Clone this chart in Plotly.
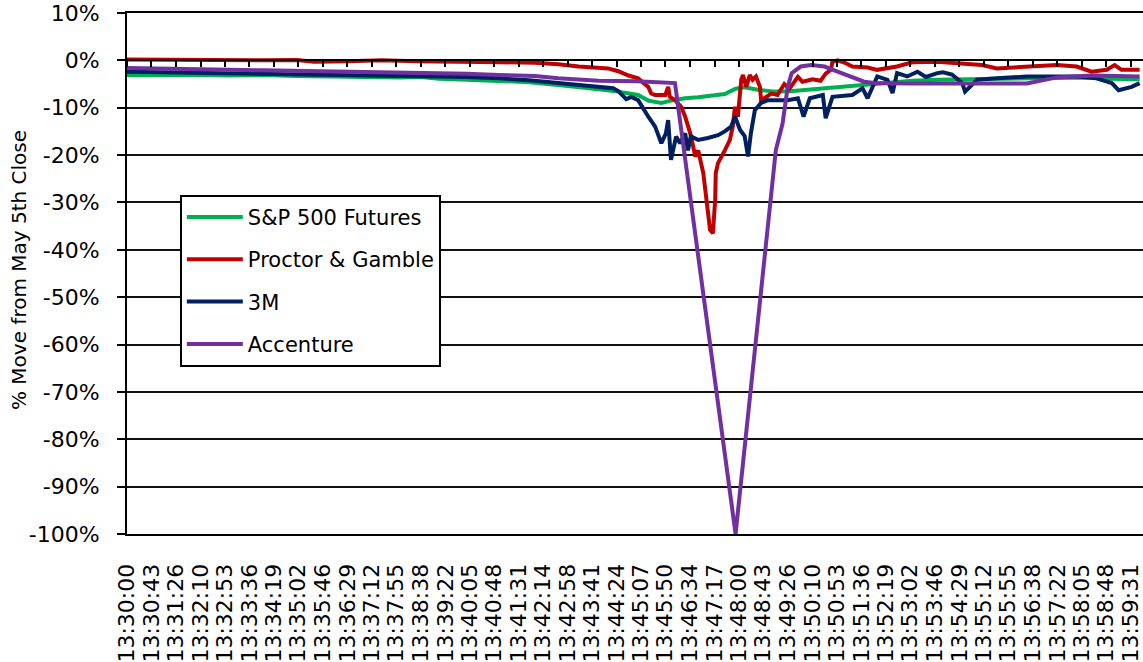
import plotly.graph_objects as go

# ---- data ----
tick_labels = ["13:30:00","13:30:43","13:31:26","13:32:10","13:32:53","13:33:36","13:34:19",
               "13:35:02","13:35:46","13:36:29","13:37:12","13:37:55","13:38:38","13:39:22",
               "13:40:05","13:40:48","13:41:31","13:42:14","13:42:58","13:43:41","13:44:24",
               "13:45:07","13:45:50","13:46:34","13:47:17","13:48:00","13:48:43","13:49:26",
               "13:50:10","13:50:53","13:51:36","13:52:19","13:53:02","13:53:46","13:54:29",
               "13:55:12","13:55:55","13:56:38","13:57:22","13:58:05","13:58:48","13:59:31"]

sp_times = ["13:30:00","13:31:00","13:32:00","13:33:00","13:34:00","13:35:00","13:36:00","13:37:00",
            "13:38:00","13:38:40","13:39:10","13:40:00","13:40:56","13:41:50","13:42:41","13:43:17",
            "13:43:52","13:44:27","13:45:02","13:45:20","13:45:43","13:46:00","13:46:25","13:46:48",
            "13:47:35","13:47:54","13:48:10","13:48:33","13:49:03","13:49:30","13:50:00","13:50:36",
            "13:51:12","13:51:47","13:52:22","13:53:06","13:53:50","13:54:34","13:55:35","13:56:28",
            "13:57:21","13:58:22","13:58:49","13:59:47"]
sp_values = [-3.1,-3.0,-3.1,-3.2,-3.1,-3.3,-3.4,-3.6,
             -3.6,-3.5,-3.9,-4.1,-4.3,-4.6,-5.2,-5.6,
             -6.1,-6.6,-7.3,-8.5,-9.0,-8.5,-8.0,-7.8,
             -7.1,-6.0,-5.7,-6.2,-6.6,-6.5,-6.2,-5.9,
             -5.5,-5.2,-4.8,-4.3,-4.1,-4.0,-3.8,-3.8,
             -3.6,-3.6,-3.9,-4.0]

pg_times = ["13:30:00","13:31:00","13:32:00","13:33:00","13:34:00","13:35:00","13:35:30","13:36:30",
            "13:37:30","13:38:30","13:39:10","13:40:00","13:41:00","13:42:00","13:42:41","13:43:17",
            "13:43:52","13:44:09","13:44:27","13:44:45","13:45:02","13:45:20","13:45:25","13:45:32",
            "13:45:50","13:45:55","13:45:58","13:46:07","13:46:18","13:46:25","13:46:34","13:46:43",
            "13:46:48","13:46:57","13:47:02","13:47:09","13:47:14","13:47:18","13:47:19","13:47:23",
            "13:47:35","13:47:44","13:47:49","13:47:53","13:47:58","13:48:04","13:48:07","13:48:13",
            "13:48:19","13:48:24","13:48:30","13:48:37","13:48:39","13:48:48","13:48:57","13:49:08",
            "13:49:20","13:49:29","13:49:44","13:49:52","13:50:10","13:50:24","13:50:33","13:50:42",
            "13:50:45","13:50:54","13:51:07","13:51:20","13:51:47","13:52:04","13:52:22","13:52:39",
            "13:53:06","13:53:50","13:54:25","13:55:09","13:55:35","13:56:28","13:57:21","13:57:56",
            "13:58:22","13:58:49","13:59:03","13:59:15","13:59:47"]
pg_values = [0.2,0.1,0.2,0.1,0.0,0.1,-0.3,-0.2,
             0.0,-0.2,-0.3,-0.3,-0.4,-0.5,-0.8,-1.3,
             -1.5,-1.7,-2.3,-3.2,-3.8,-5.6,-7.0,-7.3,
             -7.3,-5.6,-7.7,-8.4,-9.8,-11.9,-15.4,-20.3,
             -19.0,-23.8,-28.8,-35.8,-36.5,-29.5,-23.8,-21.7,
             -19.0,-16.8,-14.0,-9.8,-11.9,-4.1,-3.1,-5.6,
             -3.1,-4.1,-3.4,-5.6,-8.4,-7.7,-7.0,-7.3,
             -5.0,-6.0,-3.5,-4.5,-4.0,-4.3,-2.8,-2.0,
             -0.3,0.0,-0.5,-1.3,-1.5,-2.0,-1.6,-1.3,
             -0.4,-0.3,-0.6,-1.0,-1.7,-1.3,-1.0,-1.3,
             -2.4,-2.0,-1.0,-2.0,-2.0]

mmm_times = ["13:30:00","13:31:00","13:32:00","13:33:00","13:34:00","13:35:00","13:36:00","13:37:00",
             "13:38:00","13:39:10","13:40:00","13:40:56","13:41:50","13:42:41","13:43:17","13:43:52",
             "13:44:18","13:44:27","13:44:41","13:44:50","13:45:02","13:45:20","13:45:32","13:45:43",
             "13:45:51","13:45:55","13:46:00","13:46:09","13:46:16","13:46:25","13:46:30","13:46:35",
             "13:46:48","13:47:05","13:47:23","13:47:35","13:47:46","13:47:53","13:48:02","13:48:10",
             "13:48:16","13:48:21","13:48:28","13:48:39","13:48:51","13:49:08","13:49:26","13:49:44",
             "13:49:54","13:50:05","13:50:28","13:50:33","13:50:45","13:51:20","13:51:38","13:51:47",
             "13:51:56","13:52:04","13:52:22","13:52:31","13:52:39","13:52:57","13:53:15","13:53:30",
             "13:53:50","13:54:00","13:54:16","13:54:34","13:54:39","13:55:00","13:55:35","13:56:28",
             "13:57:21","13:57:56","13:58:31","13:58:58","13:59:10","13:59:33","13:59:47"]
mmm_values = [-2.4,-2.5,-2.7,-2.6,-2.8,-2.8,-2.9,-3.0,
              -3.1,-3.4,-3.5,-3.8,-4.2,-4.8,-5.2,-5.6,
              -5.9,-6.5,-8.2,-7.7,-8.4,-11.9,-14.0,-17.5,
              -15.4,-12.6,-21.0,-16.1,-17.5,-15.4,-19.0,-16.0,
              -16.8,-16.4,-15.8,-15.0,-14.0,-11.9,-14.7,-16.0,
              -20.3,-15.4,-10.5,-9.0,-8.4,-8.4,-8.4,-8.0,
              -11.9,-8.0,-7.3,-12.2,-7.7,-7.3,-5.9,-8.0,
              -5.6,-3.4,-4.1,-6.9,-2.7,-3.4,-2.4,-3.5,
              -2.7,-2.5,-3.0,-4.8,-6.6,-4.1,-3.8,-3.4,
              -3.4,-3.4,-3.8,-4.8,-6.3,-5.6,-4.8]

acn_times = ["13:30:00","13:31:00","13:32:00","13:33:00","13:34:00","13:35:00","13:36:00","13:37:00",
             "13:38:00","13:39:10","13:40:00","13:40:56","13:42:00","13:42:41","13:43:52","13:45:00",
             "13:46:07","13:47:54","13:49:05","13:49:17","13:49:26","13:49:33","13:49:49","13:50:07",
             "13:50:31","13:50:54","13:51:17","13:51:41","13:51:59","13:53:00","13:56:28","13:56:50",
             "13:57:21","13:58:22","13:59:47"]
acn_values = [-1.6,-1.8,-2.0,-2.0,-2.1,-2.2,-2.3,-2.3,
              -2.4,-2.7,-2.8,-3.1,-3.3,-3.8,-4.3,-4.4,
              -4.8,-100.0,-19.0,-13.3,-5.6,-2.7,-1.3,-1.0,
              -1.3,-2.4,-3.4,-4.5,-4.8,-4.9,-4.9,-4.3,
              -3.6,-3.2,-3.4]

y_ticks = list(range(-100, 11, 10))
y_tick_text = [f"{v}%" for v in y_ticks]


def secs(s):
    h, m, sec = map(int, s.split(":"))
    return h * 3600 + m * 60 + sec - (13 * 3600 + 30 * 60)


FONT = "DejaVu Sans"
x_range = [0, 1793]
tick_secs = [secs(t) for t in tick_labels]

series = [
    ("S&P 500 Futures", sp_times, sp_values, "#00B050", "x"),
    ("Proctor & Gamble", pg_times, pg_values, "#C00000", "x"),
    ("3M", mmm_times, mmm_values, "#002060", "x"),
    ("Accenture", acn_times, acn_values, "#7030A0", "x2"),
]

fig = go.Figure()
for name, times, vals, color, xa in series:
    fig.add_trace(go.Scatter(
        x=[secs(t) for t in times], y=vals, name=name, mode="lines",
        line=dict(color=color, width=4), xaxis=xa, legendgroup=name,
    ))

fig.update_layout(
    width=1143, height=662,
    margin=dict(l=127, r=0, t=13, b=128, autoexpand=False),
    paper_bgcolor="white", plot_bgcolor="white",
    font=dict(family=FONT, size=20, color="black"),
    showlegend=True,
    legend=dict(
        x=0.052, y=0.651, xanchor="left", yanchor="top",
        bgcolor="white", bordercolor="black", borderwidth=2,
        font=dict(family=FONT, size=21, color="black"),
        tracegroupgap=12, itemwidth=56,
    ),
    xaxis=dict(
        range=x_range, tickmode="array", tickvals=tick_secs, ticktext=tick_labels,
        tickangle=-90, showgrid=False, zeroline=False, automargin=False,
        showline=True, linecolor="black", linewidth=2, mirror=True,
        ticks="", ticklabelstandoff=19, ticklabeloverflow="allow",
        tickfont=dict(family=FONT, size=22, color="black"),
    ),
    xaxis2=dict(
        range=x_range, overlaying="x", anchor="free", position=100 / 110,
        tickmode="array", tickvals=tick_secs, showticklabels=False, automargin=False,
        showgrid=False, zeroline=False, showline=True, linecolor="black", linewidth=2,
        ticks="outside", ticklen=6, tickwidth=1.5, tickcolor="black",
    ),
    yaxis=dict(
        range=[-100, 10], tickmode="array", tickvals=y_ticks, ticktext=y_tick_text,
        showgrid=True, gridcolor="#111111", gridwidth=2, zeroline=False, automargin=False,
        showline=True, linecolor="black", linewidth=2,
        ticks="outside", ticklen=8, tickwidth=2, tickcolor="black",
        ticklabelstandoff=13, ticklabeloverflow="allow",
        tickfont=dict(family=FONT, size=22, color="black"),
    ),
    annotations=[dict(
        text="% Move from May 5th Close", textangle=-90,
        xref="paper", yref="paper", x=(19 - 127) / 1016, y=0.5067,
        xanchor="center", yanchor="middle", showarrow=False,
        font=dict(family=FONT, size=20, color="black"),
    )],
)

# remove the default page margin so the 1143x662 figure fills the window exactly
fig.write_html(
    "out.html",
    config={"displayModeBar": False},
    post_script="document.body.style.margin='0px';document.body.style.overflow='hidden';",
)
